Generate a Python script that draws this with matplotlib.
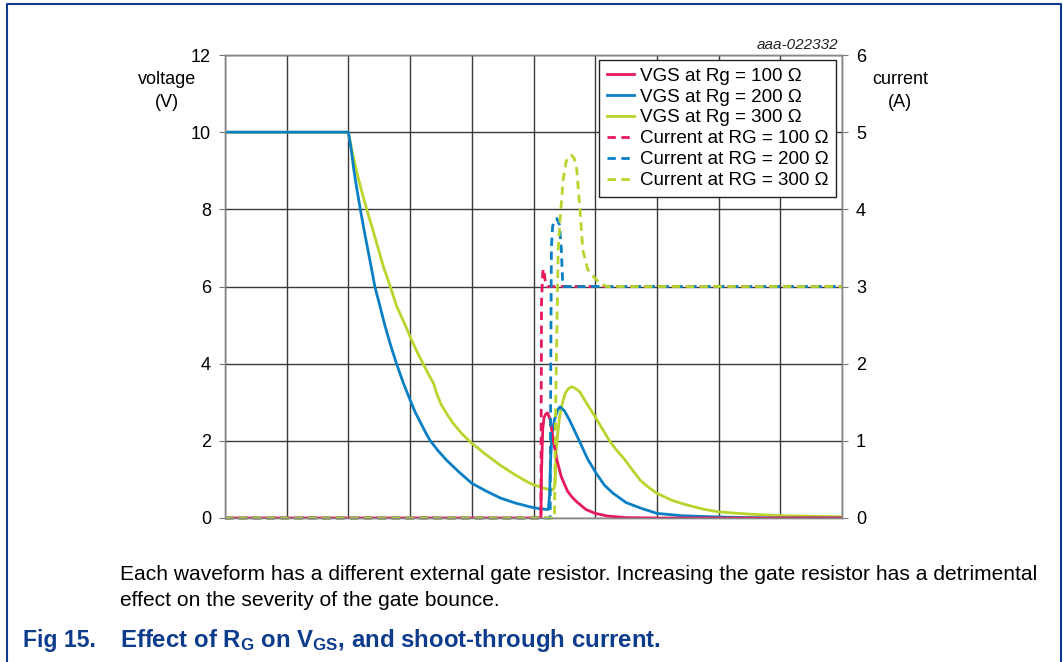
import matplotlib
matplotlib.use("Agg")
import matplotlib.pyplot as plt
from matplotlib.lines import Line2D

plt.rcParams['font.family'] = ['Liberation Sans', 'DejaVu Sans']
plt.rcParams['mathtext.fontset'] = 'custom'
plt.rcParams['mathtext.rm'] = 'Liberation Sans'
plt.rcParams['mathtext.bf'] = 'Liberation Sans:bold'
plt.rcParams['mathtext.it'] = 'Liberation Sans:italic'

# ---- data (x in grid divisions, 0..10) ----
vgs100_x = [0, 5.12, 5.13, 5.15, 5.17, 5.20, 5.23, 5.27, 5.32, 5.38, 5.45, 5.55, 5.62, 5.70,
            5.85, 6.00, 6.20, 6.50, 7.0, 10]
vgs100_y = [0, 0, 1.2, 2.3, 2.6, 2.70, 2.72, 2.55, 2.02, 1.50, 1.07, 0.70, 0.55, 0.42,
            0.22, 0.12, 0.05, 0.01, 0.0, 0]

vgs200_x = [0, 2.0, 2.05, 2.09, 2.14, 2.19, 2.25, 2.31, 2.37, 2.43, 2.51, 2.59, 2.68, 2.78, 2.89,
            3.0, 3.08, 3.16, 3.24, 3.32, 3.45, 3.59, 3.80, 4.0, 4.23, 4.46, 4.70, 4.94, 5.10, 5.24,
            5.26, 5.28, 5.30, 5.34, 5.39, 5.43, 5.50, 5.58, 5.66, 5.75, 5.88, 6.02, 6.15, 6.29,
            6.50, 6.73, 7.0, 7.40, 7.91, 8.5, 9.0, 10]
vgs200_y = [10, 10, 9.5, 9.0, 8.5, 8.03, 7.5, 7.0, 6.5, 5.99, 5.5, 5.0, 4.5, 4.0, 3.5,
            3.06, 2.75, 2.5, 2.25, 2.02, 1.75, 1.5, 1.18, 0.9, 0.70, 0.52, 0.39, 0.29, 0.24, 0.22,
            0.6, 1.6, 2.2, 2.55, 2.80, 2.88, 2.78, 2.55, 2.28, 1.97, 1.52, 1.15, 0.85, 0.64,
            0.40, 0.26, 0.12, 0.06, 0.03, 0.01, 0.0, 0]

vgs300_x = [0, 2.0, 2.06, 2.13, 2.21, 2.30, 2.39, 2.48, 2.57, 2.67, 2.78, 2.92, 3.0, 3.10, 3.21,
            3.30, 3.38, 3.43, 3.50, 3.59, 3.70, 3.83, 3.97, 4.20, 4.46, 4.70, 4.94, 5.15, 5.30,
            5.33, 5.35, 5.37, 5.40, 5.43, 5.48, 5.52, 5.57, 5.62, 5.68, 5.75, 5.87, 6.0, 6.12,
            6.24, 6.35, 6.46, 6.60, 6.73, 6.86, 7.0, 7.24, 7.48, 7.75, 7.99, 8.5, 9.0, 10]
vgs300_y = [10, 10, 9.5, 9.0, 8.5, 7.98, 7.5, 7.0, 6.5, 6.04, 5.5, 5.0, 4.7, 4.35, 4.0,
            3.72, 3.49, 3.23, 2.95, 2.71, 2.45, 2.2, 1.98, 1.68, 1.37, 1.12, 0.9, 0.78, 0.72,
            0.76, 0.9, 1.8, 2.3, 2.7, 3.05, 3.25, 3.36, 3.40, 3.36, 3.27, 2.95, 2.62, 2.30,
            1.98, 1.75, 1.55, 1.25, 0.98, 0.80, 0.64, 0.46, 0.34, 0.23, 0.16, 0.10, 0.06, 0.03]

cur100_x = [0, 5.12, 5.13, 5.15, 5.16, 5.17, 5.19, 5.22, 10]
cur100_y = [0, 0, 2.8, 3.18, 3.23, 3.20, 3.08, 3.0, 3.0]

cur200_x = [0, 5.27, 5.28, 5.29, 5.31, 5.34, 5.38, 5.42, 5.45, 5.47, 5.49, 10]
cur200_y = [0, 0, 2.0, 3.5, 3.78, 3.86, 3.88, 3.80, 3.50, 3.10, 3.0, 3.0]

cur300_x = [0, 5.34, 5.36, 5.40, 5.43, 5.48, 5.53, 5.57, 5.62, 5.66, 5.70, 5.75, 5.80, 5.88,
            5.97, 6.08, 6.19, 10]
cur300_y = [0, 0, 1.5, 3.47, 3.86, 4.38, 4.62, 4.69, 4.70, 4.66, 4.52, 4.03, 3.47, 3.22,
            3.13, 3.04, 3.0, 3.0]

v_ticks = [0, 2, 4, 6, 8, 10, 12]
a_ticks = [0, 1, 2, 3, 4, 5, 6]
labels = ['VGS at Rg = 100 Ω', 'VGS at Rg = 200 Ω', 'VGS at Rg = 300 Ω',
          'Current at RG = 100 Ω', 'Current at RG = 200 Ω', 'Current at RG = 300 Ω']

RED = '#E8185A'
BLUE = '#0A80C4'
GREEN = '#B9D42C'
NAVY = '#0E3C8C'

fig = plt.figure(figsize=(10.63, 6.62), dpi=100)
ax = fig.add_axes([225/1063, 1-518/662, (842-225)/1063, (518-55)/662])
ax2 = ax.twinx()

ax.set_xlim(0, 10)
ax.set_ylim(0, 12)
ax2.set_ylim(0, 6)
ax.set_xticks(range(0, 11))
ax.set_yticks(v_ticks)
ax2.set_yticks(a_ticks)
ax.tick_params(axis='x', length=0, labelbottom=False)
ax.tick_params(axis='y', length=4, width=0.8, color='#777777', labelsize=13, pad=6)
ax2.tick_params(axis='y', length=4, width=0.8, color='#777777', labelsize=13, pad=6)
ax.grid(True, color='#3a3a3a', linewidth=1.0)
ax.set_axisbelow(True)
for a in (ax, ax2):
    for s in a.spines.values():
        s.set_color('#888888')
        s.set_linewidth(1.0)

lw = 2.0
h1, = ax.plot(vgs300_x, vgs300_y, color=GREEN, lw=lw, solid_joinstyle='round')
h2, = ax.plot(vgs200_x, vgs200_y, color=BLUE, lw=lw, solid_joinstyle='round')
h0, = ax.plot(vgs100_x, vgs100_y, color=RED, lw=lw, solid_joinstyle='round')

d0, = ax2.plot(cur100_x, cur100_y, color=RED, lw=lw, dashes=(3, 2), clip_on=False)
d1, = ax2.plot(cur200_x, cur200_y, color=BLUE, lw=lw, dashes=(3, 2), clip_on=False)
d2, = ax2.plot(cur300_x, cur300_y, color=GREEN, lw=lw, dashes=(3, 2), clip_on=False)

leg = ax2.legend([h0, h2, h1, d0, d1, d2], labels, loc='upper right',
                 bbox_to_anchor=(0.990, 0.989), borderaxespad=0, fontsize=13.5,
                 frameon=True, fancybox=False, edgecolor='#222222', framealpha=1,
                 handlelength=1.45, handletextpad=0.3, labelspacing=0.2,
                 borderpad=0.4)
leg.get_frame().set_linewidth(1.0)

fig.text(167/1063, 1-91/662, 'voltage\n(V)', ha='center', va='center', fontsize=13,
         linespacing=1.45)
fig.text(900/1063, 1-91/662, 'current\n(A)', ha='center', va='center', fontsize=13,
         linespacing=1.45)
fig.text(838/1063, 1-45/662, 'aaa-022332', ha='right', va='center', fontsize=11,
         style='italic', color='#222222')

fig.text(120/1063, 1-575/662, 'Each waveform has a different external gate resistor. '
         'Increasing the gate resistor has a detrimental', ha='left', va='center',
         fontsize=15.15)
fig.text(120/1063, 1-600/662, 'effect on the severity of the gate bounce.', ha='left',
         va='center', fontsize=15.15)
fig.text(23/1063, 1-641/662, 'Fig 15.', ha='left', va='center', fontsize=16.6,
         fontweight='bold', color=NAVY)
fig.text(120/1063, 1-641/662,
         r'Effect of R$_{\mathbf{G}}$ on V$_{\mathbf{GS}}$, and shoot-through current.',
         ha='left', va='center', fontsize=17.3, fontweight='bold', color=NAVY)

# outer frame (left, top, right)
fx = [7/1063, 7/1063, 1061/1063, 1061/1063]
fy = [0, 1-4/662, 1-4/662, 0]
fig.add_artist(Line2D(fx, fy, transform=fig.transFigure, color=NAVY, lw=1.5))

fig.savefig('out.png', dpi=100)
